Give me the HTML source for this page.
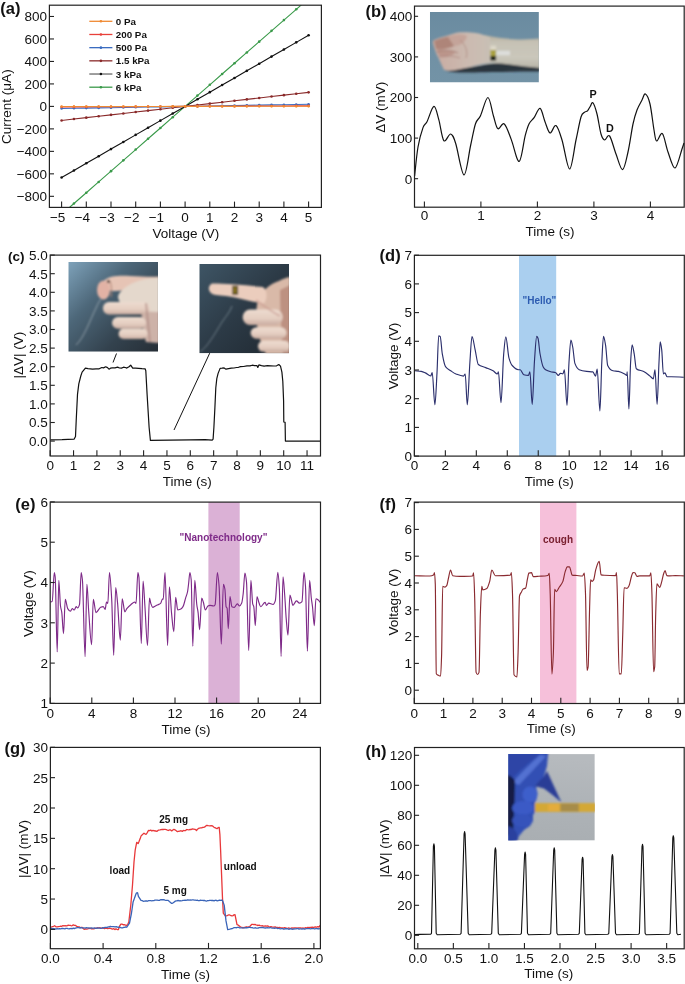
<!DOCTYPE html>
<html><head><meta charset="utf-8"><style>
html,body{margin:0;padding:0;background:#fff;width:685px;height:984px;overflow:hidden}
svg{display:block;font-family:"Liberation Sans",sans-serif;filter:blur(0.35px)}
</style></head><body>
<svg width="685" height="984" viewBox="0 0 685 984">
<rect width="685" height="984" fill="#fff"/>
<defs><clipPath id="ca"><rect x="49.4" y="5.2" width="272.0" height="202.20000000000002"/></clipPath></defs>
<g clip-path="url(#ca)">
<polyline points="61.6,214.3 73.95,203.51 86.3,192.72 98.65,181.93 111,171.14 123.35,160.35 135.7,149.56 148.05,138.77 160.4,127.98 172.75,117.19 185.1,106.4 197.45,95.61 209.8,84.82 222.15,74.03 234.5,63.24 246.85,52.45 259.2,41.66 271.55,30.87 283.9,20.08 296.25,9.29 308.6,-1.5" fill="none" stroke="#3a9a4a" stroke-width="1.1"/>
<g fill="#3a9a4a"><circle cx="61.6" cy="214.3" r="1.3"/><circle cx="73.95" cy="203.51" r="1.3"/><circle cx="86.3" cy="192.72" r="1.3"/><circle cx="98.65" cy="181.93" r="1.3"/><circle cx="111" cy="171.14" r="1.3"/><circle cx="123.35" cy="160.35" r="1.3"/><circle cx="135.7" cy="149.56" r="1.3"/><circle cx="148.05" cy="138.77" r="1.3"/><circle cx="160.4" cy="127.98" r="1.3"/><circle cx="172.75" cy="117.19" r="1.3"/><circle cx="185.1" cy="106.4" r="1.3"/><circle cx="197.45" cy="95.61" r="1.3"/><circle cx="209.8" cy="84.82" r="1.3"/><circle cx="222.15" cy="74.03" r="1.3"/><circle cx="234.5" cy="63.24" r="1.3"/><circle cx="246.85" cy="52.45" r="1.3"/><circle cx="259.2" cy="41.66" r="1.3"/><circle cx="271.55" cy="30.87" r="1.3"/><circle cx="283.9" cy="20.08" r="1.3"/><circle cx="296.25" cy="9.29" r="1.3"/><circle cx="308.6" cy="-1.5" r="1.3"/></g>
<polyline points="61.6,177.55 73.95,170.43 86.3,163.32 98.65,156.2 111,149.09 123.35,141.97 135.7,134.86 148.05,127.74 160.4,120.63 172.75,113.51 185.1,106.4 197.45,99.29 209.8,92.17 222.15,85.06 234.5,77.94 246.85,70.83 259.2,63.71 271.55,56.6 283.9,49.48 296.25,42.37 308.6,35.25" fill="none" stroke="#111" stroke-width="1.1"/>
<g fill="#111"><circle cx="61.6" cy="177.55" r="1.3"/><circle cx="73.95" cy="170.43" r="1.3"/><circle cx="86.3" cy="163.32" r="1.3"/><circle cx="98.65" cy="156.2" r="1.3"/><circle cx="111" cy="149.09" r="1.3"/><circle cx="123.35" cy="141.97" r="1.3"/><circle cx="135.7" cy="134.86" r="1.3"/><circle cx="148.05" cy="127.74" r="1.3"/><circle cx="160.4" cy="120.63" r="1.3"/><circle cx="172.75" cy="113.51" r="1.3"/><circle cx="185.1" cy="106.4" r="1.3"/><circle cx="197.45" cy="99.29" r="1.3"/><circle cx="209.8" cy="92.17" r="1.3"/><circle cx="222.15" cy="85.06" r="1.3"/><circle cx="234.5" cy="77.94" r="1.3"/><circle cx="246.85" cy="70.83" r="1.3"/><circle cx="259.2" cy="63.71" r="1.3"/><circle cx="271.55" cy="56.6" r="1.3"/><circle cx="283.9" cy="49.48" r="1.3"/><circle cx="296.25" cy="42.37" r="1.3"/><circle cx="308.6" cy="35.25" r="1.3"/></g>
<polyline points="61.6,120.45 73.95,119.05 86.3,117.64 98.65,116.24 111,114.83 123.35,113.43 135.7,112.02 148.05,110.62 160.4,109.21 172.75,107.81 185.1,106.4 197.45,105 209.8,103.59 222.15,102.19 234.5,100.78 246.85,99.38 259.2,97.97 271.55,96.56 283.9,95.16 296.25,93.76 308.6,92.35" fill="none" stroke="#8a2a2a" stroke-width="1.1"/>
<g fill="#8a2a2a"><circle cx="61.6" cy="120.45" r="1.3"/><circle cx="73.95" cy="119.05" r="1.3"/><circle cx="86.3" cy="117.64" r="1.3"/><circle cx="98.65" cy="116.24" r="1.3"/><circle cx="111" cy="114.83" r="1.3"/><circle cx="123.35" cy="113.43" r="1.3"/><circle cx="135.7" cy="112.02" r="1.3"/><circle cx="148.05" cy="110.62" r="1.3"/><circle cx="160.4" cy="109.21" r="1.3"/><circle cx="172.75" cy="107.81" r="1.3"/><circle cx="185.1" cy="106.4" r="1.3"/><circle cx="197.45" cy="105" r="1.3"/><circle cx="209.8" cy="103.59" r="1.3"/><circle cx="222.15" cy="102.19" r="1.3"/><circle cx="234.5" cy="100.78" r="1.3"/><circle cx="246.85" cy="99.38" r="1.3"/><circle cx="259.2" cy="97.97" r="1.3"/><circle cx="271.55" cy="96.56" r="1.3"/><circle cx="283.9" cy="95.16" r="1.3"/><circle cx="296.25" cy="93.76" r="1.3"/><circle cx="308.6" cy="92.35" r="1.3"/></g>
<polyline points="61.6,108.54 73.95,108.32 86.3,108.11 98.65,107.89 111,107.68 123.35,107.47 135.7,107.25 148.05,107.04 160.4,106.83 172.75,106.61 185.1,106.4 197.45,106.19 209.8,105.97 222.15,105.76 234.5,105.55 246.85,105.33 259.2,105.12 271.55,104.91 283.9,104.69 296.25,104.48 308.6,104.26" fill="none" stroke="#3a6cc0" stroke-width="1.1"/>
<g fill="#3a6cc0"><circle cx="61.6" cy="108.54" r="1.3"/><circle cx="73.95" cy="108.32" r="1.3"/><circle cx="86.3" cy="108.11" r="1.3"/><circle cx="98.65" cy="107.89" r="1.3"/><circle cx="111" cy="107.68" r="1.3"/><circle cx="123.35" cy="107.47" r="1.3"/><circle cx="135.7" cy="107.25" r="1.3"/><circle cx="148.05" cy="107.04" r="1.3"/><circle cx="160.4" cy="106.83" r="1.3"/><circle cx="172.75" cy="106.61" r="1.3"/><circle cx="185.1" cy="106.4" r="1.3"/><circle cx="197.45" cy="106.19" r="1.3"/><circle cx="209.8" cy="105.97" r="1.3"/><circle cx="222.15" cy="105.76" r="1.3"/><circle cx="234.5" cy="105.55" r="1.3"/><circle cx="246.85" cy="105.33" r="1.3"/><circle cx="259.2" cy="105.12" r="1.3"/><circle cx="271.55" cy="104.91" r="1.3"/><circle cx="283.9" cy="104.69" r="1.3"/><circle cx="296.25" cy="104.48" r="1.3"/><circle cx="308.6" cy="104.26" r="1.3"/></g>
<polyline points="61.6,106.96 73.95,106.91 86.3,106.85 98.65,106.79 111,106.74 123.35,106.68 135.7,106.62 148.05,106.57 160.4,106.51 172.75,106.46 185.1,106.4 197.45,106.34 209.8,106.29 222.15,106.23 234.5,106.18 246.85,106.12 259.2,106.06 271.55,106.01 283.9,105.95 296.25,105.89 308.6,105.84" fill="none" stroke="#e8403a" stroke-width="1.1"/>
<g fill="#e8403a"><circle cx="61.6" cy="106.96" r="1.3"/><circle cx="73.95" cy="106.91" r="1.3"/><circle cx="86.3" cy="106.85" r="1.3"/><circle cx="98.65" cy="106.79" r="1.3"/><circle cx="111" cy="106.74" r="1.3"/><circle cx="123.35" cy="106.68" r="1.3"/><circle cx="135.7" cy="106.62" r="1.3"/><circle cx="148.05" cy="106.57" r="1.3"/><circle cx="160.4" cy="106.51" r="1.3"/><circle cx="172.75" cy="106.46" r="1.3"/><circle cx="185.1" cy="106.4" r="1.3"/><circle cx="197.45" cy="106.34" r="1.3"/><circle cx="209.8" cy="106.29" r="1.3"/><circle cx="222.15" cy="106.23" r="1.3"/><circle cx="234.5" cy="106.18" r="1.3"/><circle cx="246.85" cy="106.12" r="1.3"/><circle cx="259.2" cy="106.06" r="1.3"/><circle cx="271.55" cy="106.01" r="1.3"/><circle cx="283.9" cy="105.95" r="1.3"/><circle cx="296.25" cy="105.89" r="1.3"/><circle cx="308.6" cy="105.84" r="1.3"/></g>
<polyline points="61.6,106.57 73.95,106.55 86.3,106.53 98.65,106.52 111,106.5 123.35,106.48 135.7,106.47 148.05,106.45 160.4,106.43 172.75,106.42 185.1,106.4 197.45,106.38 209.8,106.37 222.15,106.35 234.5,106.33 246.85,106.32 259.2,106.3 271.55,106.28 283.9,106.27 296.25,106.25 308.6,106.23" fill="none" stroke="#f08a32" stroke-width="1.1"/>
<g fill="#f08a32"><circle cx="61.6" cy="106.57" r="1.3"/><circle cx="73.95" cy="106.55" r="1.3"/><circle cx="86.3" cy="106.53" r="1.3"/><circle cx="98.65" cy="106.52" r="1.3"/><circle cx="111" cy="106.5" r="1.3"/><circle cx="123.35" cy="106.48" r="1.3"/><circle cx="135.7" cy="106.47" r="1.3"/><circle cx="148.05" cy="106.45" r="1.3"/><circle cx="160.4" cy="106.43" r="1.3"/><circle cx="172.75" cy="106.42" r="1.3"/><circle cx="185.1" cy="106.4" r="1.3"/><circle cx="197.45" cy="106.38" r="1.3"/><circle cx="209.8" cy="106.37" r="1.3"/><circle cx="222.15" cy="106.35" r="1.3"/><circle cx="234.5" cy="106.33" r="1.3"/><circle cx="246.85" cy="106.32" r="1.3"/><circle cx="259.2" cy="106.3" r="1.3"/><circle cx="271.55" cy="106.28" r="1.3"/><circle cx="283.9" cy="106.27" r="1.3"/><circle cx="296.25" cy="106.25" r="1.3"/><circle cx="308.6" cy="106.23" r="1.3"/></g>
</g>
<g stroke="#222" stroke-width="1.1" fill="none"><line x1="61.6" y1="207.4" x2="61.6" y2="201.6"/><line x1="86.3" y1="207.4" x2="86.3" y2="201.6"/><line x1="111" y1="207.4" x2="111" y2="201.6"/><line x1="135.7" y1="207.4" x2="135.7" y2="201.6"/><line x1="160.4" y1="207.4" x2="160.4" y2="201.6"/><line x1="185.1" y1="207.4" x2="185.1" y2="201.6"/><line x1="209.8" y1="207.4" x2="209.8" y2="201.6"/><line x1="234.5" y1="207.4" x2="234.5" y2="201.6"/><line x1="259.2" y1="207.4" x2="259.2" y2="201.6"/><line x1="283.9" y1="207.4" x2="283.9" y2="201.6"/><line x1="308.6" y1="207.4" x2="308.6" y2="201.6"/><line x1="49.4" y1="196.32" x2="54" y2="196.32"/><line x1="49.4" y1="173.84" x2="54" y2="173.84"/><line x1="49.4" y1="151.36" x2="54" y2="151.36"/><line x1="49.4" y1="128.88" x2="54" y2="128.88"/><line x1="49.4" y1="106.4" x2="54" y2="106.4"/><line x1="49.4" y1="83.92" x2="54" y2="83.92"/><line x1="49.4" y1="61.44" x2="54" y2="61.44"/><line x1="49.4" y1="38.96" x2="54" y2="38.96"/><line x1="49.4" y1="16.48" x2="54" y2="16.48"/></g>
<rect x="49.4" y="5.2" width="272" height="202.2" fill="none" stroke="#222" stroke-width="1.2"/>
<g font-size="13.5" fill="#111"><text x="65.35" y="221.7" text-anchor="end">−5</text><text x="90.05" y="221.7" text-anchor="end">−4</text><text x="114.75" y="221.7" text-anchor="end">−3</text><text x="139.45" y="221.7" text-anchor="end">−2</text><text x="164.15" y="221.7" text-anchor="end">−1</text><text x="185.1" y="221.7" text-anchor="middle">0</text><text x="209.8" y="221.7" text-anchor="middle">1</text><text x="234.5" y="221.7" text-anchor="middle">2</text><text x="259.2" y="221.7" text-anchor="middle">3</text><text x="283.9" y="221.7" text-anchor="middle">4</text><text x="308.6" y="221.7" text-anchor="middle">5</text><text x="47.1" y="201.18" text-anchor="end">−800</text><text x="47.1" y="178.7" text-anchor="end">−600</text><text x="47.1" y="156.22" text-anchor="end">−400</text><text x="47.1" y="133.74" text-anchor="end">−200</text><text x="47.1" y="111.26" text-anchor="end">0</text><text x="47.1" y="88.78" text-anchor="end">200</text><text x="47.1" y="66.3" text-anchor="end">400</text><text x="47.1" y="43.82" text-anchor="end">600</text><text x="47.1" y="21.34" text-anchor="end">800</text></g>
<text x="185.9" y="238.4" text-anchor="middle" font-size="13.5" fill="#111">Voltage (V)</text>
<text transform="translate(10.8,106.65) rotate(-90)" text-anchor="middle" font-size="13.5" fill="#111">Current (μA)</text>
<line x1="89.3" y1="21.3" x2="112.4" y2="21.3" stroke="#f08a32" stroke-width="1.3"/>
<circle cx="100.9" cy="21.3" r="1.3" fill="#f08a32"/>
<text x="115.8" y="24.8" font-size="9.8" font-weight="bold" fill="#111">0 Pa</text>
<line x1="89.3" y1="34.48" x2="112.4" y2="34.48" stroke="#e8403a" stroke-width="1.3"/>
<circle cx="100.9" cy="34.48" r="1.3" fill="#e8403a"/>
<text x="115.8" y="37.98" font-size="9.8" font-weight="bold" fill="#111">200 Pa</text>
<line x1="89.3" y1="47.66" x2="112.4" y2="47.66" stroke="#3a6cc0" stroke-width="1.3"/>
<circle cx="100.9" cy="47.66" r="1.3" fill="#3a6cc0"/>
<text x="115.8" y="51.16" font-size="9.8" font-weight="bold" fill="#111">500 Pa</text>
<line x1="89.3" y1="60.84" x2="112.4" y2="60.84" stroke="#8a2a2a" stroke-width="1.3"/>
<circle cx="100.9" cy="60.84" r="1.3" fill="#8a2a2a"/>
<text x="115.8" y="64.34" font-size="9.8" font-weight="bold" fill="#111">1.5 kPa</text>
<line x1="89.3" y1="74.02" x2="112.4" y2="74.02" stroke="#6a6a6a" stroke-width="1.3"/>
<circle cx="100.9" cy="74.02" r="1.3" fill="#111"/>
<text x="115.8" y="77.52" font-size="9.8" font-weight="bold" fill="#111">3 kPa</text>
<line x1="89.3" y1="87.2" x2="112.4" y2="87.2" stroke="#3a9a4a" stroke-width="1.3"/>
<circle cx="100.9" cy="87.2" r="1.3" fill="#3a9a4a"/>
<text x="115.8" y="90.7" font-size="9.8" font-weight="bold" fill="#111">6 kPa</text>
<text x="0.3" y="14.4" font-size="16.5" font-weight="bold" fill="#111">(a)</text>
<defs><clipPath id="cpb"><rect x="429.9" y="11.9" width="109" height="70.6"/></clipPath><filter id="blb" x="-10%" y="-10%" width="120%" height="120%"><feGaussianBlur stdDeviation="0.9"/></filter><linearGradient id="gbb" x1="0" y1="0" x2="0" y2="1"><stop offset="0" stop-color="#6a8ba0"/><stop offset="0.5" stop-color="#7090a4"/><stop offset="1" stop-color="#7393a6"/></linearGradient><linearGradient id="gfa" x1="0" y1="0" x2="0" y2="1"><stop offset="0" stop-color="#b3ab98"/><stop offset="0.25" stop-color="#c6c2b5"/><stop offset="0.7" stop-color="#cac7bb"/><stop offset="1" stop-color="#b8b4a7"/></linearGradient><linearGradient id="gfi" x1="0" y1="0" x2="1" y2="0"><stop offset="0" stop-color="#c9aba1"/><stop offset="0.6" stop-color="#ccbab0"/><stop offset="1" stop-color="#c8c0b5"/></linearGradient></defs>
<g clip-path="url(#cpb)"><rect x="429.9" y="11.9" width="109" height="70.6" fill="url(#gbb)"/>
<g filter="url(#blb)">
<path d="M445,68 C470,70 490,62 505,62.5 C520,64 530,66 540,67 L540,71.5 C520,71.5 490,72 470,72.5 C455,72.5 447,72 445,70Z" fill="#2c343e"/>
<path d="M478,34 C490,36 500,38.5 518,39.4 C528,39.6 535,38.8 540,38.5 L540,68 C530,67 520,66 510,64.5 C500,63 490,63 480,64 Z" fill="url(#gfa)"/>
<path d="M433.3,40.5 C437,38.6 442,37 446.9,35.8 C451,34.3 455,32.6 460,32.2 C466,32 472,32.2 476,33 C481,34 486,35.5 490,37.5 L491,62.8 C486,63.3 481,64.5 476,65.6 C469,67.5 460,69.5 452,70.6 C448,71 445,70.5 443.8,69.4 C441.5,64.7 439,59 436.5,54 C435,50 433.5,46 432.7,42Z" fill="url(#gfi)"/>
<path d="M434,41 C440,38 448,36 456,36 C460,40 458,45 452,47 C446,49 440,50 436,49Z" fill="#ae8579"/>
<path d="M436,50 C442,49 450,50 456,52 C452,56 446,58 440,57Z" fill="#b89084" opacity="0.8"/>
<path d="M448,37 C455,34 462,34 467,36 C466,42 460,46 454,46Z" fill="#c4a49a"/>
<path d="M437,52 C444,50 452,50 458,53" stroke="#a88078" stroke-width="1" fill="none"/>
<path d="M439,57 C446,55 454,56 460,58" stroke="#b08a82" stroke-width="0.9" fill="none"/>
<path d="M460,40 C466,45 468,52 466,58" stroke="#b39388" stroke-width="1" fill="none"/>
<rect x="496" y="50.8" width="14" height="4.5" fill="#e6e8ea" opacity="0.7"/>
<rect x="490.4" y="45.6" width="5.7" height="4.5" fill="#ddd8c8"/>
<rect x="490.4" y="50" width="5.7" height="6.2" fill="#a8a040"/>
<rect x="490.4" y="56" width="5.7" height="4.5" fill="#1e2014"/>
</g></g>
<path d="M414.6,176 C415.17,171.17 416.6,155.07 418,147 C419.4,138.93 421.5,131.82 423,127.6 C424.5,123.38 425.18,125.23 427,121.7 C428.82,118.17 431.93,106.73 433.9,106.4 C435.87,106.07 437.15,114 438.8,119.7 C440.45,125.4 441.82,138.22 443.8,140.6 C445.78,142.98 448.72,133.52 450.7,134 C452.68,134.48 453.48,136.68 455.7,143.5 C457.92,150.32 461.52,174.57 464,174.9 C466.48,175.23 468.68,154.03 470.6,145.5 C472.52,136.97 473.85,128.67 475.5,123.7 C477.15,118.73 478.43,120.07 480.5,115.7 C482.57,111.33 485.75,97.5 487.9,97.5 C490.05,97.5 491.75,110.52 493.4,115.7 C495.05,120.88 495.98,127.22 497.8,128.6 C499.62,129.98 502.05,122.17 504.3,124 C506.55,125.83 508.82,133.37 511.3,139.6 C513.78,145.83 516.88,162.07 519.2,161.4 C521.52,160.73 523.55,141.88 525.2,135.6 C526.85,129.32 527.62,126.68 529.1,123.7 C530.58,120.72 532.27,120.25 534.1,117.7 C535.93,115.15 538.28,107.73 540.1,108.4 C541.92,109.07 543.35,117.6 545,121.7 C546.65,125.8 548.17,132.35 550,133 C551.83,133.65 554,124.43 556,125.6 C558,126.77 559.73,132.77 562,140 C564.27,147.23 567.27,169 569.6,169 C571.93,169 574.1,148.67 576,140 C577.9,131.33 579.58,121.62 581,117 C582.42,112.38 583.42,113.33 584.5,112.3 C585.58,111.27 586.55,111.77 587.5,110.8 C588.45,109.83 589.28,107.83 590.2,106.5 C591.12,105.17 591.87,101.55 593,102.8 C594.13,104.05 595.67,108.8 597,114 C598.33,119.2 599.73,129.67 601,134 C602.27,138.33 603.17,139.67 604.6,140 C606.03,140.33 607.7,133.67 609.6,136 C611.5,138.33 613.83,148.4 616,154 C618.17,159.6 620.6,169.93 622.6,169.6 C624.6,169.27 626.27,159.6 628,152 C629.73,144.4 631.5,131 633,124 C634.5,117 635.5,114 637,110 C638.5,106 640.6,102.67 642,100 C643.4,97.33 644.07,93.33 645.4,94 C646.73,94.67 648.57,98 650,104 C651.43,110 652.9,123.83 654,130 C655.1,136.17 655.2,140.4 656.6,141 C658,141.6 660.5,131.77 662.4,133.6 C664.3,135.43 665.9,146.27 668,152 C670.1,157.73 672.67,168.5 675,168 C677.33,167.5 680.5,153.17 682,149 C683.5,144.83 683.67,144 684,143" fill="none" stroke="#111" stroke-width="1.2"/>
<g stroke="#222" stroke-width="1.1" fill="none"><line x1="424.4" y1="207.2" x2="424.4" y2="201.4"/><line x1="480.9" y1="207.2" x2="480.9" y2="201.4"/><line x1="537.4" y1="207.2" x2="537.4" y2="201.4"/><line x1="593.9" y1="207.2" x2="593.9" y2="201.4"/><line x1="650.4" y1="207.2" x2="650.4" y2="201.4"/><line x1="414.5" y1="178.7" x2="418.1" y2="178.7"/><line x1="414.5" y1="138.1" x2="418.1" y2="138.1"/><line x1="414.5" y1="97.5" x2="418.1" y2="97.5"/><line x1="414.5" y1="56.9" x2="418.1" y2="56.9"/><line x1="414.5" y1="16.3" x2="418.1" y2="16.3"/></g>
<rect x="414.5" y="6.1" width="269.7" height="201.1" fill="none" stroke="#222" stroke-width="1.2"/>
<g font-size="13.5" fill="#111"><text x="424.4" y="220.2" text-anchor="middle">0</text><text x="480.9" y="220.2" text-anchor="middle">1</text><text x="537.4" y="220.2" text-anchor="middle">2</text><text x="593.9" y="220.2" text-anchor="middle">3</text><text x="650.4" y="220.2" text-anchor="middle">4</text><text x="412.2" y="183.56" text-anchor="end">0</text><text x="412.2" y="142.96" text-anchor="end">100</text><text x="412.2" y="102.36" text-anchor="end">200</text><text x="412.2" y="61.76" text-anchor="end">300</text><text x="412.2" y="21.16" text-anchor="end">400</text></g>
<text x="550.05" y="236.2" text-anchor="middle" font-size="13.5" fill="#111">Time (s)</text>
<text transform="translate(384.6,107.15) rotate(-90)" text-anchor="middle" font-size="13.5" fill="#111">ΔV (mV)</text>
<text x="593.2" y="98.1" font-size="10.8" font-weight="bold" text-anchor="middle" fill="#111">P</text>
<text x="609.8" y="131.7" font-size="10.8" font-weight="bold" text-anchor="middle" fill="#111">D</text>
<text x="365.5" y="16.9" font-size="16.5" font-weight="bold" fill="#111">(b)</text>
<defs><clipPath id="cpc1"><rect x="68.3" y="262" width="89.7" height="89.7"/></clipPath><clipPath id="cpc2"><rect x="199.3" y="264" width="89.7" height="89.3"/></clipPath><filter id="blc" x="-10%" y="-10%" width="120%" height="120%"><feGaussianBlur stdDeviation="1.0"/></filter><linearGradient id="gc1" x1="0" y1="0" x2="1" y2="1"><stop offset="0" stop-color="#7ea2ba"/><stop offset="0.35" stop-color="#4d6779"/><stop offset="0.7" stop-color="#33424e"/><stop offset="1" stop-color="#262e36"/></linearGradient><linearGradient id="gfg" x1="0" y1="0" x2="0" y2="1"><stop offset="0" stop-color="#eddcd0"/><stop offset="0.6" stop-color="#e4cdc0"/><stop offset="1" stop-color="#c9aca0"/></linearGradient><linearGradient id="gc2" x1="0" y1="0" x2="1" y2="1"><stop offset="0" stop-color="#3e5565"/><stop offset="0.5" stop-color="#2c3a46"/><stop offset="1" stop-color="#1f2830"/></linearGradient></defs>
<g clip-path="url(#cpc1)"><rect x="68.3" y="262" width="89.7" height="89.7" fill="url(#gc1)"/>
<g filter="url(#blc)">
<path d="M76,345 C84,338 90,320 96,308 C98,303 100,300 102,298" stroke="#b5c0c6" stroke-width="0.7" fill="none"/>
<path d="M140,284 L159,278 L159,343 L146,342 C142,330 140,300 140,284Z" fill="#cdb2a8"/>
<path d="M104,281 C108,276 118,275.5 130,276 C142,276.5 152,277 159,276.5 L159,282 C148,283 136,286 124,290 C118,291.5 110,291.5 106,289 C103,287 102,284 104,281Z" fill="#e6c4b5"/>
<path d="M118,296 C121,288 132,282 146,279 C152,278 156,278 159,278 L159,312 C150,312 140,311 130,309 C123,307 118,302 118,296Z" fill="#e4d8cc"/>
<ellipse cx="103.5" cy="290" rx="6.5" ry="9.5" fill="#e2b2a5"/>
<circle cx="108.4" cy="281.5" r="1.4" fill="#1a1410"/>
<path d="M110,281 C112,286 112,292 111,297" stroke="#b08070" stroke-width="1" fill="none"/>
<rect x="103" y="302" width="47" height="12.5" rx="6" fill="url(#gfg)"/>
<rect x="112" y="317" width="34" height="11.8" rx="6" fill="url(#gfg)"/>
<rect x="118.6" y="328.8" width="29" height="10.2" rx="5" fill="url(#gfg)"/>
<path d="M146,303 L150,342" stroke="#a8807a" stroke-width="2" fill="none" opacity="0.6"/>
</g></g>
<g clip-path="url(#cpc2)"><rect x="199.3" y="264" width="89.7" height="89.3" fill="url(#gc2)"/>
<g filter="url(#blc)">
<path d="M200,352 C208,346 214,335 222,322 C226,316 230,312 232,306" stroke="#8e9ea6" stroke-width="0.7" fill="none"/>
<path d="M258,300 C262,290 270,284 279,281 C283,279 286,277.5 290,277 L290,354 L266,354 C258,340 254,315 258,300Z" fill="#d9b9a8"/>
<path d="M280,290 L290,285 L290,354 L283,354 C281,330 280,310 280,290Z" fill="#b08070" opacity="0.7"/>
<path d="M212,283.6 C222,283.5 240,284.6 263,287 C267,290 268,298 264,303.4 C250,302 240,297.5 226,296 C218,295.5 213,295 211,293 C208,290 208,286 212,283.6Z" fill="#ebcdbd"/>
<rect x="242.7" y="309.5" width="40" height="15.5" rx="7.5" fill="url(#gfg)"/>
<rect x="250.6" y="327.2" width="36" height="11.5" rx="5.8" fill="url(#gfg)"/>
<rect x="258" y="340.8" width="32" height="11" rx="5.5" fill="url(#gfg)"/>
<path d="M256,300 C264,306 272,312 280,316" stroke="#c89a90" stroke-width="2" fill="none" opacity="0.6"/>
<rect x="232.2" y="285.7" width="5.9" height="9.2" fill="#4a4018"/>
<rect x="233.2" y="287" width="3.5" height="6.5" fill="#a08828" opacity="0.7"/>
</g></g>
<polyline points="50.4,439.9 62,439.7 74.2,439.1 75.5,436.5 76.2,420.7 77.5,394.4 78.8,383.9 80.8,376 82.1,372.1 85.4,368.1 88,368.6 92.6,369.2 96,368.9 99.2,368.8 101.8,367.5 103.5,367.9 105.7,366.8 107.5,367.6 109,369.2 110.5,368.2 112.3,367.9 115,367.8 117.6,367.1 119.5,368 121.5,368.1 123.5,367.2 125.4,367.5 126.8,368.1 129,366.8 130.7,365.2 132.7,368.1 135.5,368.2 138.6,368.4 142,368.7 145.1,368.8 145.8,370.8 147.1,394.4 149.1,427.3 150.4,440.4 170,440.2 190,439.9 205,439.7 212.2,440.1 213.1,439.1 213.9,427.3 214.9,407.6 215.8,387.8 216.8,378.6 218.1,373.4 220.1,368.4 222,368.2 224.1,367.9 226,369.2 228.5,368.6 231.3,368.1 234,368 236.5,367.5 238.5,367.3 240.5,366.6 243.5,366.5 247,365.8 250,365.9 252.3,365.2 254.5,365.7 256.9,365.5 257.8,367.5 258.9,364.9 261.5,365.6 264.1,366.2 267.5,365.7 270.7,365.8 274,366 276.6,365.8 278.8,364.5 280.5,366.2 281.9,372.1 282.8,381.3 283.6,401 283.8,422 285.1,422.3 285.4,441.1 300,441.1 320.3,441.1" fill="none" stroke="#111" stroke-width="1.2" stroke-linejoin="round"/>
<line x1="116.5" y1="353.5" x2="113" y2="362.5" stroke="#111" stroke-width="1"/>
<line x1="209.7" y1="353.2" x2="174" y2="430" stroke="#111" stroke-width="1"/>
<g stroke="#222" stroke-width="1.1" fill="none"><line x1="50.2" y1="456" x2="50.2" y2="450.2"/><line x1="73.55" y1="456" x2="73.55" y2="450.2"/><line x1="96.9" y1="456" x2="96.9" y2="450.2"/><line x1="120.25" y1="456" x2="120.25" y2="450.2"/><line x1="143.6" y1="456" x2="143.6" y2="450.2"/><line x1="166.95" y1="456" x2="166.95" y2="450.2"/><line x1="190.3" y1="456" x2="190.3" y2="450.2"/><line x1="213.65" y1="456" x2="213.65" y2="450.2"/><line x1="237" y1="456" x2="237" y2="450.2"/><line x1="260.35" y1="456" x2="260.35" y2="450.2"/><line x1="283.7" y1="456" x2="283.7" y2="450.2"/><line x1="307.05" y1="456" x2="307.05" y2="450.2"/><line x1="50.2" y1="441.1" x2="54.8" y2="441.1"/><line x1="50.2" y1="422.5" x2="54.8" y2="422.5"/><line x1="50.2" y1="403.9" x2="54.8" y2="403.9"/><line x1="50.2" y1="385.3" x2="54.8" y2="385.3"/><line x1="50.2" y1="366.7" x2="54.8" y2="366.7"/><line x1="50.2" y1="348.1" x2="54.8" y2="348.1"/><line x1="50.2" y1="329.5" x2="54.8" y2="329.5"/><line x1="50.2" y1="310.9" x2="54.8" y2="310.9"/><line x1="50.2" y1="292.3" x2="54.8" y2="292.3"/><line x1="50.2" y1="273.7" x2="54.8" y2="273.7"/><line x1="50.2" y1="255.1" x2="54.8" y2="255.1"/></g>
<rect x="50.2" y="255.1" width="270.3" height="200.9" fill="none" stroke="#222" stroke-width="1.2"/>
<g font-size="13.5" fill="#111"><text x="50.2" y="470.3" text-anchor="middle">0</text><text x="73.55" y="470.3" text-anchor="middle">1</text><text x="96.9" y="470.3" text-anchor="middle">2</text><text x="120.25" y="470.3" text-anchor="middle">3</text><text x="143.6" y="470.3" text-anchor="middle">4</text><text x="166.95" y="470.3" text-anchor="middle">5</text><text x="190.3" y="470.3" text-anchor="middle">6</text><text x="213.65" y="470.3" text-anchor="middle">7</text><text x="237" y="470.3" text-anchor="middle">8</text><text x="260.35" y="470.3" text-anchor="middle">9</text><text x="283.7" y="470.3" text-anchor="middle">10</text><text x="307.05" y="470.3" text-anchor="middle">11</text><text x="47.9" y="445.96" text-anchor="end">0.0</text><text x="47.9" y="427.36" text-anchor="end">0.5</text><text x="47.9" y="408.76" text-anchor="end">1.0</text><text x="47.9" y="390.16" text-anchor="end">1.5</text><text x="47.9" y="371.56" text-anchor="end">2.0</text><text x="47.9" y="352.96" text-anchor="end">2.5</text><text x="47.9" y="334.36" text-anchor="end">3.0</text><text x="47.9" y="315.76" text-anchor="end">3.5</text><text x="47.9" y="297.16" text-anchor="end">4.0</text><text x="47.9" y="278.56" text-anchor="end">4.5</text><text x="47.9" y="259.96" text-anchor="end">5.0</text></g>
<text x="187.35" y="485.5" text-anchor="middle" font-size="13.5" fill="#111">Time (s)</text>
<text transform="translate(22.8,355.05) rotate(-90)" text-anchor="middle" font-size="13.5" fill="#111">|ΔV| (V)</text>
<text x="8.1" y="260.7" font-size="13.5" font-weight="bold" fill="#111">(c)</text>
<rect x="519" y="255.3" width="37.2" height="200.8" fill="#aacfef"/>
<path d="M414.8,370.8 C416.93,371 419.07,371.07 421.2,371.4 C422.6,371.62 424,372.28 425.4,372.9 C427.17,373.68 428.93,376 430.7,376 C431.2,376 431.7,372.5 432.2,372.5 C433.1,372.5 434,404.7 434.9,404.7 C435.6,404.7 436.3,385.48 437,372.9 C437.57,362.72 438.13,335.9 438.7,335.9 C439.2,335.9 439.7,336.14 440.2,336.5 C440.9,337.01 441.6,350.05 442.3,353.9 C443.37,359.77 444.43,365.11 445.5,366.6 C447.27,369.07 449.03,369.58 450.8,370.8 C452.53,372 454.27,373.32 456,374 C458.5,374.98 461,376.1 463.5,376.1 C464.07,376.1 464.63,374 465.2,374 C465.9,374 466.6,404.7 467.3,404.7 C468.17,404.7 469.03,374.39 469.9,362.3 C470.6,352.54 471.3,336.5 472,336.5 C473.03,336.5 474.07,345.02 475.1,349.6 C476.17,354.32 477.23,363.58 478.3,364.5 C480.77,366.63 483.23,366.55 485.7,367.6 C488.17,368.65 490.63,369.42 493.1,370.8 C494.53,371.6 495.97,374 497.4,374 C497.73,374 498.07,371.9 498.4,371.9 C499.27,371.9 500.13,402.6 501,402.6 C501.9,402.6 502.8,363.8 503.7,353.9 C504.4,346.2 505.1,336.9 505.8,336.9 C506.87,336.9 507.93,354.44 509,358.1 C510.07,361.76 511.13,364.33 512.2,365.5 C514.3,367.81 516.4,369.5 518.5,369.7 C519.07,369.75 519.63,369.74 520.2,369.8 C521.4,369.92 522.6,374.5 523.8,374.8 C525.33,375.18 526.87,375.4 528.4,375.4 C528.9,375.4 529.4,371.8 529.9,371.8 C530.67,371.8 531.43,404.3 532.2,404.3 C532.97,404.3 533.73,371.29 534.5,360.6 C535.23,350.38 535.97,336.3 536.7,336.3 C537.13,336.3 537.57,337.24 538,338.3 C538.67,339.93 539.33,349.79 540,353.5 C541.03,359.26 542.07,364.75 543.1,366.7 C543.93,368.27 544.77,369.27 545.6,369.8 C547.3,370.88 549,371.36 550.7,371.8 C552.4,372.24 554.1,372.19 555.8,372.8 C556.63,373.1 557.47,375.4 558.3,375.4 C559,375.4 559.7,373.3 560.4,373.3 C561.23,373.3 562.07,373.8 562.9,373.8 C563.4,373.8 563.9,369.8 564.4,369.8 C565.27,369.8 566.13,405.3 567,405.3 C567.67,405.3 568.33,372.37 569,362.3 C569.63,352.74 570.27,340.1 570.9,340.1 C571.53,340.1 572.17,344.26 572.8,347.5 C573.5,351.08 574.2,361.54 574.9,363.4 C576.33,367.21 577.77,369.09 579.2,369.7 C581.67,370.75 584.13,371.11 586.6,371.4 C588.7,371.64 590.8,371.54 592.9,371.9 C593.77,372.05 594.63,376.1 595.5,376.1 C596.07,376.1 596.63,369.1 597.2,369.1 C598.1,369.1 599,411 599.9,411 C600.53,411 601.17,374.38 601.8,362.3 C602.37,351.49 602.93,336.3 603.5,336.3 C604.2,336.3 604.9,341.22 605.6,345.4 C606.3,349.58 607,364.06 607.7,365.5 C609.47,369.12 611.23,370.44 613,370.8 C614.77,371.16 616.53,371.09 618.3,371.4 C620.43,371.77 622.57,372.84 624.7,374 C625.4,374.38 626.1,375.5 626.8,375.5 C626.93,375.5 627.07,371.9 627.2,371.9 C627.77,371.9 628.33,408.9 628.9,408.9 C629.47,408.9 630.03,371.5 630.6,362.3 C631.1,354.18 631.6,344.8 632.1,344.8 C632.8,344.8 633.5,350.14 634.2,353.9 C634.9,357.66 635.6,368.12 636.3,368.7 C638.77,370.76 641.23,370.19 643.7,371.4 C645.83,372.45 647.97,374.41 650.1,376.1 C651.17,376.94 652.23,378.8 653.3,378.8 C653.87,378.8 654.43,369.7 655,369.7 C655.7,369.7 656.4,404.3 657.1,404.3 C657.73,404.3 658.37,374.39 659,362.3 C659.4,354.66 659.8,341.8 660.2,341.8 C660.7,341.8 661.2,345.82 661.7,349.6 C662.27,353.88 662.83,374 663.4,374 C663.9,374 664.4,372.9 664.9,372.9 C665.6,372.9 666.3,376.7 667,376.7 C668.4,376.7 669.8,376.7 671.2,376.7 C675.4,376.7 679.6,377.03 683.8,377.2" fill="none" stroke="#2b2f6c" stroke-width="1.15" stroke-linejoin="round"/>
<text x="539.4" y="304" font-size="10" font-weight="bold" text-anchor="middle" fill="#2c5bb0">"Hello"</text>
<g stroke="#222" stroke-width="1.1" fill="none"><line x1="414.4" y1="456.1" x2="414.4" y2="450.3"/><line x1="445.36" y1="456.1" x2="445.36" y2="450.3"/><line x1="476.32" y1="456.1" x2="476.32" y2="450.3"/><line x1="507.28" y1="456.1" x2="507.28" y2="450.3"/><line x1="538.24" y1="456.1" x2="538.24" y2="450.3"/><line x1="569.2" y1="456.1" x2="569.2" y2="450.3"/><line x1="600.16" y1="456.1" x2="600.16" y2="450.3"/><line x1="631.12" y1="456.1" x2="631.12" y2="450.3"/><line x1="662.08" y1="456.1" x2="662.08" y2="450.3"/><line x1="414.4" y1="456.1" x2="419" y2="456.1"/><line x1="414.4" y1="427.4" x2="419" y2="427.4"/><line x1="414.4" y1="398.7" x2="419" y2="398.7"/><line x1="414.4" y1="370" x2="419" y2="370"/><line x1="414.4" y1="341.3" x2="419" y2="341.3"/><line x1="414.4" y1="312.6" x2="419" y2="312.6"/><line x1="414.4" y1="283.9" x2="419" y2="283.9"/><line x1="414.4" y1="255.2" x2="419" y2="255.2"/></g>
<rect x="414.4" y="255.3" width="269.9" height="200.8" fill="none" stroke="#222" stroke-width="1.2"/>
<g font-size="13.5" fill="#111"><text x="414.4" y="470.4" text-anchor="middle">0</text><text x="445.36" y="470.4" text-anchor="middle">2</text><text x="476.32" y="470.4" text-anchor="middle">4</text><text x="507.28" y="470.4" text-anchor="middle">6</text><text x="538.24" y="470.4" text-anchor="middle">8</text><text x="569.2" y="470.4" text-anchor="middle">10</text><text x="600.16" y="470.4" text-anchor="middle">12</text><text x="631.12" y="470.4" text-anchor="middle">14</text><text x="662.08" y="470.4" text-anchor="middle">16</text><text x="412.1" y="460.96" text-anchor="end">0</text><text x="412.1" y="432.26" text-anchor="end">1</text><text x="412.1" y="403.56" text-anchor="end">2</text><text x="412.1" y="374.86" text-anchor="end">3</text><text x="412.1" y="346.16" text-anchor="end">4</text><text x="412.1" y="317.46" text-anchor="end">5</text><text x="412.1" y="288.76" text-anchor="end">6</text><text x="412.1" y="260.06" text-anchor="end">7</text></g>
<text x="549.35" y="485.7" text-anchor="middle" font-size="13.5" fill="#111">Time (s)</text>
<text transform="translate(398.4,356.1) rotate(-90)" text-anchor="middle" font-size="13.5" fill="#111">Voltage (V)</text>
<text x="379.6" y="261.3" font-size="16.5" font-weight="bold" fill="#111">(d)</text>
<rect x="208.4" y="502.1" width="31.3" height="201.3" fill="#dbb1d6"/>
<path d="M50.6,602 C51.13,601.8 51.67,601.77 52.2,601.4 C52.9,600.91 53.6,572.5 54.3,572.5 C54.6,572.5 54.9,574.59 55.2,577 C55.87,582.36 56.53,652 57.2,652 C57.73,652 58.27,580.4 58.8,580.4 C59.37,580.4 59.93,601.79 60.5,606 C60.93,609.22 61.37,609.54 61.8,612.6 C62.37,616.6 62.93,633.6 63.5,633.6 C64.1,633.6 64.7,599.4 65.3,599.4 C66.1,599.4 66.9,607.32 67.7,608.6 C68.57,609.99 69.43,611.2 70.3,611.2 C70.97,611.2 71.63,608.6 72.3,608.6 C72.97,608.6 73.63,610 74.3,610 C74.93,610 75.57,606.6 76.2,606.6 C76.67,606.6 77.13,608 77.6,608 C78.23,608 78.87,606.75 79.5,604.7 C80.07,602.87 80.63,572.5 81.2,572.5 C81.6,572.5 82,576.04 82.4,579.7 C83.3,587.93 84.2,656.6 85.1,656.6 C85.7,656.6 86.3,584.3 86.9,584.3 C87.5,584.3 88.1,603.3 88.7,611.2 C89.67,623.92 90.63,644.7 91.6,644.7 C92.17,644.7 92.73,599.4 93.3,599.4 C94.2,599.4 95.1,612.6 96,612.6 C97.53,612.6 99.07,607.93 100.6,607.3 C101.47,606.94 102.33,606.6 103.2,606.6 C103.87,606.6 104.53,609.3 105.2,609.3 C105.63,609.3 106.07,602 106.5,602 C106.93,602 107.37,603.4 107.8,603.4 C108.37,603.4 108.93,572.5 109.5,572.5 C110.23,572.5 110.97,586.85 111.7,599.4 C112.37,610.81 113.03,655.3 113.7,655.3 C114.37,655.3 115.03,587.6 115.7,587.6 C116.33,587.6 116.97,596.95 117.6,603.4 C118.5,612.56 119.4,640.1 120.3,640.1 C120.93,640.1 121.57,598.8 122.2,598.8 C123.1,598.8 124,611.9 124.9,611.9 C125.53,611.9 126.17,609.42 126.8,608.6 C128.13,606.88 129.47,605.78 130.8,604.7 C132.1,603.65 133.4,602 134.7,602 C135.13,602 135.57,603.4 136,603.4 C136.63,603.4 137.27,572.5 137.9,572.5 C138.23,572.5 138.57,574.71 138.9,577.1 C139.7,582.85 140.5,643.4 141.3,643.4 C141.9,643.4 142.5,581 143.1,581 C143.7,581 144.3,597.33 144.9,606 C145.77,618.53 146.63,645.4 147.5,645.4 C148.17,645.4 148.83,598.1 149.5,598.1 C149.93,598.1 150.37,602.19 150.8,603.4 C151.43,605.17 152.07,607.3 152.7,607.3 C153.6,607.3 154.5,606.44 155.4,606 C156.27,605.57 157.13,605.13 158,604.7 C158.87,604.27 159.73,604.13 160.6,603.4 C161.27,602.84 161.93,598.8 162.6,598.8 C162.8,598.8 163,599.4 163.2,599.4 C163.8,599.4 164.4,572.5 165,572.5 C165.87,572.5 166.73,645.4 167.6,645.4 C168.2,645.4 168.8,586.9 169.4,586.9 C170.1,586.9 170.8,605.68 171.5,612.6 C172.27,620.18 173.03,631.6 173.8,631.6 C174.43,631.6 175.07,597.4 175.7,597.4 C176.37,597.4 177.03,609.9 177.7,609.9 C178.57,609.9 179.43,609.62 180.3,609.3 C181.2,608.96 182.1,607.98 183,606.6 C183.87,605.27 184.73,600.95 185.6,598.1 C186.27,595.91 186.93,594.74 187.6,591.5 C187.93,589.88 188.27,586.42 188.6,583.7 C189.03,580.16 189.47,572.5 189.9,572.5 C190.33,572.5 190.77,575.57 191.2,579.7 C191.73,584.78 192.27,646.1 192.8,646.1 C193.47,646.1 194.13,580.4 194.8,580.4 C195.47,580.4 196.13,599.42 196.8,604.7 C197.23,608.13 197.67,609.2 198.1,612.6 C198.6,616.53 199.1,629.6 199.6,629.6 C200.3,629.6 201,598.1 201.7,598.1 C202.23,598.1 202.77,600.41 203.3,602 C203.97,603.99 204.63,609.9 205.3,609.9 C206.17,609.9 207.03,606.48 207.9,606 C208.57,605.63 209.23,605.3 209.9,605.3 C211.2,605.3 212.5,606 213.8,606 C214.23,606 214.67,605.45 215.1,604.7 C215.87,603.38 216.63,572.5 217.4,572.5 C217.97,572.5 218.53,579.43 219.1,586.3 C219.83,595.19 220.57,644.1 221.3,644.1 C222,644.1 222.7,584.2 223.4,584.2 C223.9,584.2 224.4,586.42 224.9,589.2 C225.3,591.42 225.7,605.64 226.1,606.7 C226.43,607.58 226.77,607.3 227.1,608.2 C227.5,609.28 227.9,628.6 228.3,628.6 C228.87,628.6 229.43,596.5 230,596.5 C230.63,596.5 231.27,606.35 231.9,606.7 C232.73,607.16 233.57,607.4 234.4,607.4 C235.37,607.4 236.33,603.8 237.3,603.8 C238.03,603.8 238.77,606 239.5,606 C240.23,606 240.97,604.77 241.7,603.1 C242.2,601.96 242.7,597.73 243.2,593.6 C243.77,588.92 244.33,573.1 244.9,573.1 C245.43,573.1 245.97,577.09 246.5,581.9 C247.23,588.51 247.97,650.5 248.7,650.5 C249.43,650.5 250.17,580.4 250.9,580.4 C251.5,580.4 252.1,601.3 252.7,603.8 C253.07,605.33 253.43,605.15 253.8,606.7 C254.3,608.81 254.8,625.7 255.3,625.7 C255.87,625.7 256.43,596.5 257,596.5 C257.6,596.5 258.2,600.68 258.8,602.3 C259.43,604.01 260.07,606.7 260.7,606.7 C262.17,606.7 263.63,602.3 265.1,602.3 C265.57,602.3 266.03,605.3 266.5,605.3 C267.23,605.3 267.97,603.1 268.7,603.1 C270.17,603.1 271.63,604.5 273.1,604.5 C273.83,604.5 274.57,602.97 275.3,600.9 C276.13,598.55 276.97,572.4 277.8,572.4 C278.33,572.4 278.87,580.4 279.4,589.2 C279.97,598.55 280.53,656.4 281.1,656.4 C281.73,656.4 282.37,576.8 283,576.8 C283.6,576.8 284.2,588.72 284.8,596.5 C285.27,602.55 285.73,612.89 286.2,618.4 C286.8,625.49 287.4,635.2 288,635.2 C288.63,635.2 289.27,595 289.9,595 C290.37,595 290.83,597.77 291.3,599.4 C291.8,601.14 292.3,605.3 292.8,605.3 C294.03,605.3 295.27,600.9 296.5,600.9 C297.47,600.9 298.43,603.1 299.4,603.1 C300.27,603.1 301.13,602.6 302,601.6 C302.67,600.83 303.33,572.4 304,572.4 C304.5,572.4 305,579.17 305.5,586.3 C306.13,595.33 306.77,651.2 307.4,651.2 C308.13,651.2 308.87,580.4 309.6,580.4 C310.17,580.4 310.73,593.22 311.3,598 C311.7,601.38 312.1,603.3 312.5,606.7 C313.1,611.79 313.7,625.7 314.3,625.7 C314.83,625.7 315.37,598.7 315.9,598.7 C316.73,598.7 317.57,599.43 318.4,600.1 C318.97,600.55 319.53,601.57 320.1,602.3" fill="none" stroke="#7e2a88" stroke-width="1.15" stroke-linejoin="round"/>
<text x="223.5" y="541" font-size="10" font-weight="bold" text-anchor="middle" fill="#7e2a88">"Nanotechnology"</text>
<g stroke="#222" stroke-width="1.1" fill="none"><line x1="50.2" y1="703.4" x2="50.2" y2="697.6"/><line x1="91.8" y1="703.4" x2="91.8" y2="697.6"/><line x1="133.4" y1="703.4" x2="133.4" y2="697.6"/><line x1="175" y1="703.4" x2="175" y2="697.6"/><line x1="216.6" y1="703.4" x2="216.6" y2="697.6"/><line x1="258.2" y1="703.4" x2="258.2" y2="697.6"/><line x1="299.8" y1="703.4" x2="299.8" y2="697.6"/><line x1="50.2" y1="703.4" x2="54.8" y2="703.4"/><line x1="50.2" y1="663.1" x2="54.8" y2="663.1"/><line x1="50.2" y1="622.8" x2="54.8" y2="622.8"/><line x1="50.2" y1="582.5" x2="54.8" y2="582.5"/><line x1="50.2" y1="542.2" x2="54.8" y2="542.2"/><line x1="50.2" y1="501.9" x2="54.8" y2="501.9"/></g>
<rect x="50.2" y="502.1" width="270.3" height="201.3" fill="none" stroke="#222" stroke-width="1.2"/>
<g font-size="13.5" fill="#111"><text x="50.2" y="717.7" text-anchor="middle">0</text><text x="91.8" y="717.7" text-anchor="middle">4</text><text x="133.4" y="717.7" text-anchor="middle">8</text><text x="175" y="717.7" text-anchor="middle">12</text><text x="216.6" y="717.7" text-anchor="middle">16</text><text x="258.2" y="717.7" text-anchor="middle">20</text><text x="299.8" y="717.7" text-anchor="middle">24</text><text x="47.9" y="708.26" text-anchor="end">1</text><text x="47.9" y="667.96" text-anchor="end">2</text><text x="47.9" y="627.66" text-anchor="end">3</text><text x="47.9" y="587.36" text-anchor="end">4</text><text x="47.9" y="547.06" text-anchor="end">5</text><text x="47.9" y="506.76" text-anchor="end">6</text></g>
<text x="186.05" y="734.1" text-anchor="middle" font-size="13.5" fill="#111">Time (s)</text>
<text transform="translate(33.4,603.6) rotate(-90)" text-anchor="middle" font-size="13.5" fill="#111">Voltage (V)</text>
<text x="15.3" y="509.8" font-size="16.5" font-weight="bold" fill="#111">(e)</text>
<rect x="540" y="502.1" width="36.4" height="201.4" fill="#f6c0da"/>
<path d="M414.5,575.7 C419.63,575.8 424.77,576 429.9,576 C431.1,576 432.3,575.7 433.5,575 C433.83,574.8 434.17,572.6 434.5,572.6 C434.77,572.6 435.03,577.72 435.3,584.2 C435.63,592.3 435.97,673.27 436.3,673.8 C437,674.92 437.7,674.99 438.4,675.3 C439.13,675.62 439.87,676 440.6,676 C440.93,676 441.27,665.59 441.6,655.3 C441.97,643.98 442.33,586.4 442.7,586.4 C443.43,586.4 444.17,587.1 444.9,587.1 C445.5,587.1 446.1,586.49 446.7,585.7 C447.27,584.95 447.83,580.85 448.4,578.5 C449.1,575.6 449.8,570 450.5,570 C451.23,570 451.97,575.53 452.7,575.7 C455.07,576.24 457.43,576.4 459.8,576.4 C464.07,576.4 468.33,576.37 472.6,576 C472.93,575.97 473.27,572.8 473.6,572.8 C473.97,572.8 474.33,586.73 474.7,598.4 C475.17,613.25 475.63,671.11 476.1,672.4 C476.6,673.78 477.1,674.5 477.6,674.5 C478.07,674.5 478.53,673.75 479,672.4 C479.47,671.05 479.93,624.87 480.4,612.7 C480.87,600.53 481.33,586.4 481.8,586.4 C482.13,586.4 482.47,589.9 482.8,589.9 C484.13,589.9 485.47,589.35 486.8,588.5 C487.77,587.88 488.73,584.73 489.7,581.4 C490.4,578.99 491.1,570 491.8,570 C492.97,570 494.13,575.7 495.3,575.7 C500.3,575.7 505.3,575.64 510.3,575.1 C510.67,575.06 511.03,572.6 511.4,572.6 C511.77,572.6 512.13,583.63 512.5,593.8 C513,607.67 513.5,673.97 514,674.8 C514.97,676.41 515.93,677 516.9,677 C517.3,677 517.7,663.03 518.1,652.2 C518.57,639.57 519.03,597.9 519.5,596 C520.1,593.56 520.7,593.48 521.3,592.3 C521.87,591.19 522.43,589.5 523,589.1 C523.9,588.47 524.8,588.73 525.7,588 C526.27,587.54 526.83,581.77 527.4,579.2 C527.9,576.93 528.4,573.3 528.9,573.1 C529.77,572.75 530.63,572.6 531.5,572.6 C532.07,572.6 532.63,576.6 533.2,576.6 C535.07,576.6 536.93,576.42 538.8,576.3 C541.8,576.1 544.8,576.13 547.8,575.5 C548.3,575.39 548.8,573.4 549.3,573.4 C549.6,573.4 549.9,584.93 550.2,593.8 C550.77,610.55 551.33,674.1 551.9,674.1 C552.4,674.1 552.9,663.86 553.4,652.2 C553.8,642.87 554.2,589.4 554.6,589.4 C555.17,589.4 555.73,591.6 556.3,591.6 C557.27,591.6 558.23,588.69 559.2,587.2 C560.43,585.3 561.67,584.35 562.9,581.4 C563.63,579.64 564.37,574.11 565.1,571.9 C565.83,569.69 566.57,566.8 567.3,566.8 C568.03,566.8 568.77,566.8 569.5,566.8 C569.97,566.8 570.43,569.71 570.9,571.2 C571.3,572.48 571.7,575.02 572.1,575.1 C573.67,575.42 575.23,575.37 576.8,575.5 C578.73,575.67 580.67,576 582.6,576 C583.17,576 583.73,573.1 584.3,573.1 C584.7,573.1 585.1,583.67 585.5,593.8 C586,606.46 586.5,670.4 587,670.4 C587.37,670.4 587.73,668.92 588.1,666.8 C588.6,663.91 589.1,624.69 589.6,608.4 C589.93,597.54 590.27,579.9 590.6,579.9 C591.1,579.9 591.6,581.4 592.1,581.4 C592.6,581.4 593.1,580.7 593.6,579.9 C594.3,578.78 595,572.21 595.7,569.9 C596.87,566.04 598.03,561.4 599.2,561.4 C599.83,561.4 600.47,574.73 601.1,574.9 C602.13,575.18 603.17,575.25 604.2,575.3 C608,575.49 611.8,575.6 615.6,575.6 C615.9,575.6 616.2,572.5 616.5,572.5 C616.77,572.5 617.03,584.52 617.3,592.7 C617.93,612.12 618.57,673.8 619.2,673.8 C619.9,673.8 620.6,673.8 621.3,673.8 C621.77,673.8 622.23,649.49 622.7,635.3 C623.17,621.11 623.63,587.7 624.1,587.7 C625.07,587.7 626.03,588.4 627,588.4 C627.7,588.4 628.4,586.99 629.1,585.6 C629.83,584.15 630.57,579.3 631.3,577 C631.87,575.23 632.43,572.5 633,572.5 C633.6,572.5 634.2,572.62 634.8,572.8 C635.5,573.01 636.2,576.3 636.9,576.3 C637.87,576.3 638.83,575.9 639.8,575.9 C643.1,575.9 646.4,575.9 649.7,575.9 C650.1,575.9 650.5,572.8 650.9,572.8 C651.23,572.8 651.57,583.72 651.9,592.7 C652.47,607.96 653.03,671.6 653.6,671.6 C653.97,671.6 654.33,669.71 654.7,666.6 C655.03,663.77 655.37,625.45 655.7,614 C656.1,600.27 656.5,583.9 656.9,583.9 C657.37,583.9 657.83,585.03 658.3,585.6 C658.77,586.17 659.23,587.3 659.7,587.3 C660.4,587.3 661.1,583.67 661.8,581.3 C662.43,579.16 663.07,575.22 663.7,573.5 C664.17,572.24 664.63,570.6 665.1,570.6 C665.67,570.6 666.23,575.48 666.8,575.6 C667.77,575.81 668.73,575.9 669.7,575.9 C671.57,575.9 673.43,575.6 675.3,575.6 C678.13,575.6 680.97,575.8 683.8,575.9" fill="none" stroke="#8a2a30" stroke-width="1.15" stroke-linejoin="round"/>
<text x="558" y="543.1" font-size="10" font-weight="bold" text-anchor="middle" fill="#7a2030">cough</text>
<g stroke="#222" stroke-width="1.1" fill="none"><line x1="414.3" y1="703.5" x2="414.3" y2="697.7"/><line x1="443.6" y1="703.5" x2="443.6" y2="697.7"/><line x1="472.9" y1="703.5" x2="472.9" y2="697.7"/><line x1="502.2" y1="703.5" x2="502.2" y2="697.7"/><line x1="531.5" y1="703.5" x2="531.5" y2="697.7"/><line x1="560.8" y1="703.5" x2="560.8" y2="697.7"/><line x1="590.1" y1="703.5" x2="590.1" y2="697.7"/><line x1="619.4" y1="703.5" x2="619.4" y2="697.7"/><line x1="648.7" y1="703.5" x2="648.7" y2="697.7"/><line x1="678" y1="703.5" x2="678" y2="697.7"/><line x1="414.3" y1="690.2" x2="418.9" y2="690.2"/><line x1="414.3" y1="663.4" x2="418.9" y2="663.4"/><line x1="414.3" y1="636.6" x2="418.9" y2="636.6"/><line x1="414.3" y1="609.8" x2="418.9" y2="609.8"/><line x1="414.3" y1="583" x2="418.9" y2="583"/><line x1="414.3" y1="556.2" x2="418.9" y2="556.2"/><line x1="414.3" y1="529.4" x2="418.9" y2="529.4"/><line x1="414.3" y1="502.6" x2="418.9" y2="502.6"/></g>
<rect x="414.3" y="502.1" width="270" height="201.4" fill="none" stroke="#222" stroke-width="1.2"/>
<g font-size="13.5" fill="#111"><text x="414.3" y="717.8" text-anchor="middle">0</text><text x="443.6" y="717.8" text-anchor="middle">1</text><text x="472.9" y="717.8" text-anchor="middle">2</text><text x="502.2" y="717.8" text-anchor="middle">3</text><text x="531.5" y="717.8" text-anchor="middle">4</text><text x="560.8" y="717.8" text-anchor="middle">5</text><text x="590.1" y="717.8" text-anchor="middle">6</text><text x="619.4" y="717.8" text-anchor="middle">7</text><text x="648.7" y="717.8" text-anchor="middle">8</text><text x="678" y="717.8" text-anchor="middle">9</text><text x="412" y="695.06" text-anchor="end">0</text><text x="412" y="668.26" text-anchor="end">1</text><text x="412" y="641.46" text-anchor="end">2</text><text x="412" y="614.66" text-anchor="end">3</text><text x="412" y="587.86" text-anchor="end">4</text><text x="412" y="561.06" text-anchor="end">5</text><text x="412" y="534.26" text-anchor="end">6</text><text x="412" y="507.46" text-anchor="end">7</text></g>
<text x="551.3" y="732.7" text-anchor="middle" font-size="13.5" fill="#111">Time (s)</text>
<text transform="translate(397.8,602.1) rotate(-90)" text-anchor="middle" font-size="13.5" fill="#111">Voltage (V)</text>
<text x="379.6" y="509.5" font-size="16.5" font-weight="bold" fill="#111">(f)</text>
<polyline points="50.6,927.21 51.6,926.92 52.6,926.57 53.6,926.3 54.6,925.72 55.9,926.78 57.2,926.88 58.5,926.62 59.8,926.4 60.86,926.09 61.92,926.28 62.98,925.53 64.04,925.81 65.1,925.57 66.14,925.78 67.18,925.75 68.22,925.18 69.26,925.31 70.3,925.3 71.3,925.77 72.3,925.54 73.3,924.89 74.3,925.37 75.6,925.44 76.9,926.54 78.2,926.76 79.2,926.8 80.2,927.73 81.2,927.29 82.2,927.44 83.5,928.83 84.8,929.44 85.84,928.77 86.88,929.24 87.92,928.72 88.96,928.7 90,928.13 91.06,928.8 92.12,928.57 93.18,928.82 94.24,928.75 95.3,928.22 96.36,928.22 97.42,927.98 98.48,927.9 99.54,927.77 100.6,927.92 101.9,928.29 103.2,927.85 104.5,928.56 105.56,928.25 106.62,928.23 107.68,928.69 108.74,928.38 109.8,928.23 111.1,928.62 112.4,929.05 113.7,928.7 114.85,929.6 116,928.82 117.15,929.55 118.3,929.71 119.6,926.17 120.9,924.06 122,924.11 123.1,924.74 124.2,924.66 125.5,925.04 126.8,925.51 127.8,924.31 128.8,922 129.8,913.5 130.8,905 132.5,885 134,862 135.2,850 136.7,842.33 138.1,843.63 139.1,841.32 140.1,838.86 141.1,835.86 142.55,834.42 144,833.12 145.1,834.1 146.2,834.25 147.3,832.62 148.4,830.47 149.56,830.66 150.72,830.06 151.88,831.02 153.04,830.39 154.2,830.76 155.65,831 157.1,831.28 158.55,830.06 160,829.88 161.04,829.6 162.09,829.45 163.13,829.51 164.17,829.44 165.21,829.41 166.26,829.53 167.3,830.07 168.4,830.5 169.5,829.9 170.6,829.94 171.7,830.94 172.8,830.03 173.9,829.42 175.13,829.9 176.37,830.85 177.6,831.69 178.76,831.26 179.92,831.13 181.08,830.7 182.24,831.37 183.4,830.48 184.5,830.54 185.6,830.5 186.7,829.52 187.8,829.71 188.96,829.82 190.12,829.46 191.28,829.52 192.44,828.83 193.6,829.04 195.05,829.33 196.5,830.51 197.5,829.15 198.5,828.42 199.5,828.05 200.57,827.84 201.65,827.88 202.73,827.33 203.8,827.29 204.8,826.91 205.8,826.08 206.8,825.31 208.25,825.71 209.7,825.78 211.15,825.69 212.6,825.94 213.7,826.96 214.8,827.71 215.9,828.2 217,828.65 218.1,827.68 219.2,827.3 219.9,834.6 220.6,850 222.5,898.1 223.3,913.1 225.1,915.55 226.1,915.88 227.1,915.68 229,914.76 230,915.18 231,915.54 232,915.95 233,915.63 234,914.88 235,914.6 236,919.55 237,924.68 238,924.9 239,925.69 240,926.54 241,927.07 242,927.31 243.06,927.83 244.11,927.49 245.17,927.36 246.23,926.77 247.29,927.19 248.34,926.85 249.4,927.15 250.65,925.47 251.9,924.29 252.92,924.33 253.93,924.67 254.95,924.46 255.97,924.93 256.98,925.21 258,925.5 259.05,925.15 260.1,925.68 261.15,925.78 262.2,925.7 263.25,926.05 264.3,926.11 265.4,925.86 266.5,926.02 267.6,925.83 268.7,926.58 269.8,926.82 270.9,926.55 272,926.88 273.1,927.05 274.2,927.21 275.23,926.8 276.27,927.45 277.3,927.37 278.33,927.55 279.37,927.43 280.4,927.71 281.43,927.95 282.47,927.92 283.5,928.1 284.53,927.57 285.57,927.79 286.6,928.15 287.66,928.34 288.73,927.95 289.79,928.37 290.86,928.32 291.92,927.79 292.99,928.17 294.05,927.95 295.11,927.8 296.18,927.87 297.24,928.04 298.31,927.91 299.37,927.92 300.44,927.78 301.5,928.17 302.56,928.02 303.62,928.15 304.69,928.06 305.75,927.66 306.81,928.19 307.88,927.3 308.94,927.59 310,927.4 311.11,927.44 312.23,927.1 313.34,927.67 314.45,927.19 315.56,926.81 316.67,927.25 317.79,926.71 318.9,927.04 320,925.5" fill="none" stroke="#e8383a" stroke-width="1.3" stroke-linejoin="round"/>
<polyline points="50.6,928.28 51.66,928.3 52.72,928.79 53.78,928.52 54.84,928.99 55.9,929.01 57.03,928.73 58.16,928.99 59.29,928.6 60.41,928.82 61.54,928.51 62.67,928.47 63.8,928.65 64.85,928.9 65.9,928.38 66.95,928.42 68,928.67 69.05,928.86 70.1,928.57 71.15,928.42 72.2,928.79 73.25,928.11 74.3,928.65 75.34,928.11 76.38,927.87 77.42,927.71 78.46,927.71 79.5,927.92 80.63,927.53 81.76,927.87 82.89,927.97 84.01,927.84 85.14,928.02 86.27,927.74 87.4,927.79 88.42,927.89 89.43,928.23 90.45,928.05 91.46,927.97 92.48,928.16 93.49,928.07 94.51,927.96 95.52,928.31 96.54,928.24 97.55,927.92 98.57,928.15 99.58,928.12 100.6,928.36 101.68,928.13 102.77,927.68 103.85,928.04 104.93,927.3 106.02,927.38 107.1,927.48 108.16,926.88 109.22,926.93 110.28,926.44 111.34,926.7 112.4,926.59 113.7,926.58 115,926.93 116.3,926.67 117.36,927.12 118.42,927.23 119.48,927.4 120.54,927.49 121.6,927.94 122.64,927.89 123.68,927.44 124.72,927.45 125.76,926.91 126.8,927.24 128.15,925.2 129.5,923.1 130.5,918.05 131.5,913 133.1,901.95 134.45,898.33 135.8,894.45 136.4,893.02 137,892.72 137.6,892.97 138.4,896.37 139.7,898.32 141,900.43 142.17,900.59 143.33,901.29 144.5,901.04 145.55,901.01 146.6,901 147.65,901.23 148.7,900.57 149.75,900.71 150.8,900.67 151.85,900.8 152.9,900.64 153.95,900.56 155,900.04 156.1,900.1 157.2,900.03 158.3,900.36 159.4,900.37 160.5,899.77 161.6,899.75 162.7,899.75 163.8,899.71 164.9,900.09 166,900.36 167.1,900.33 168.2,900.35 169.37,901.54 170.53,902.41 171.7,903.45 172.8,903.04 173.9,902.18 175,901.39 176.1,900.78 177.1,900.79 178.1,900.32 179.1,900.87 180.1,900.75 181.1,900.78 182.1,900.69 183.1,900.37 184.1,900.34 185.1,900.1 186.1,900.44 187.1,900 188.1,899.97 189.1,900.03 190.1,899.96 191.13,900.12 192.16,899.95 193.19,899.94 194.22,900.07 195.25,900.07 196.28,900.28 197.31,900.07 198.34,900.7 199.36,900.54 200.39,900.25 201.42,900.35 202.45,900.45 203.48,900.49 204.51,900.35 205.54,900.89 206.57,901.02 207.6,900.68 208.66,900.67 209.73,900.37 210.79,900.36 211.86,900.5 212.92,900.43 213.99,900.8 215.05,900.31 216.11,900.19 217.18,900.82 218.24,900.51 219.31,900.22 220.37,900.47 221.44,900.09 222.5,900.42 224.2,905.1 226,920.9 227.7,929.63 228.8,929.43 229.9,929.19 231,928.76 232.1,928.71 233.3,927.92 234.5,927.69 235.53,927.54 236.57,927.74 237.6,927.44 238.63,927.39 239.67,927.82 240.7,927.96 241.73,927.89 242.77,927.87 243.8,927.9 244.83,927.87 245.87,927.53 246.9,927.75 247.93,927.66 248.97,927.45 250,927.47 251.02,927.64 252.03,927.62 253.05,927.92 254.06,928.1 255.08,927.74 256.09,928.07 257.11,928.1 258.13,928.08 259.14,927.66 260.16,927.55 261.17,927.55 262.19,927.52 263.21,927.52 264.22,927.81 265.24,928 266.25,927.95 267.27,927.7 268.28,927.81 269.3,927.91 270.32,927.49 271.34,927.97 272.35,928.22 273.37,928.2 274.39,928.26 275.41,928.14 276.42,928.01 277.44,928.51 278.46,928.27 279.48,928.68 280.49,928.87 281.51,928.54 282.53,928.63 283.55,929.08 284.56,929 285.58,928.69 286.6,928.74 287.63,928.74 288.66,929.25 289.69,929.17 290.72,928.69 291.75,929.15 292.78,929.24 293.82,929 294.85,928.77 295.88,928.9 296.91,928.59 297.94,928.49 298.97,929.15 300,928.9 301.05,928.81 302.1,929.09 303.15,928.74 304.2,929.04 305.25,929 306.3,928.56 307.35,928.59 308.4,928.61 309.45,928.57 310.5,928.8 311.55,928.57 312.6,928.68 313.65,928.47 314.7,929.01 315.75,928.61 316.8,928.68 317.85,928.76 318.9,928.98 320,928.5" fill="none" stroke="#3a64b8" stroke-width="1.3" stroke-linejoin="round"/>
<g font-size="10" font-weight="bold" fill="#111"><text x="173.6" y="822.7" text-anchor="middle">25 mg</text><text x="175.2" y="893.5" text-anchor="middle">5 mg</text><text x="119.9" y="874" text-anchor="middle">load</text><text x="223.8" y="870.3">unload</text></g>
<g stroke="#222" stroke-width="1.1" fill="none"><line x1="50.4" y1="948.7" x2="50.4" y2="942.9"/><line x1="103.1" y1="948.7" x2="103.1" y2="942.9"/><line x1="155.8" y1="948.7" x2="155.8" y2="942.9"/><line x1="208.5" y1="948.7" x2="208.5" y2="942.9"/><line x1="261.2" y1="948.7" x2="261.2" y2="942.9"/><line x1="313.9" y1="948.7" x2="313.9" y2="942.9"/><line x1="50.4" y1="929.4" x2="55" y2="929.4"/><line x1="50.4" y1="899.05" x2="55" y2="899.05"/><line x1="50.4" y1="868.7" x2="55" y2="868.7"/><line x1="50.4" y1="838.35" x2="55" y2="838.35"/><line x1="50.4" y1="808" x2="55" y2="808"/><line x1="50.4" y1="777.65" x2="55" y2="777.65"/><line x1="50.4" y1="747.3" x2="55" y2="747.3"/></g>
<rect x="50.4" y="747.4" width="270" height="201.3" fill="none" stroke="#222" stroke-width="1.2"/>
<g font-size="13.5" fill="#111"><text x="50.4" y="963" text-anchor="middle">0.0</text><text x="103.1" y="963" text-anchor="middle">0.4</text><text x="155.8" y="963" text-anchor="middle">0.8</text><text x="208.5" y="963" text-anchor="middle">1.2</text><text x="261.2" y="963" text-anchor="middle">1.6</text><text x="313.9" y="963" text-anchor="middle">2.0</text><text x="48.1" y="934.26" text-anchor="end">0</text><text x="48.1" y="903.91" text-anchor="end">5</text><text x="48.1" y="873.56" text-anchor="end">10</text><text x="48.1" y="843.21" text-anchor="end">15</text><text x="48.1" y="812.86" text-anchor="end">20</text><text x="48.1" y="782.51" text-anchor="end">25</text><text x="48.1" y="752.16" text-anchor="end">30</text></g>
<text x="185.4" y="979.1" text-anchor="middle" font-size="13.5" fill="#111">Time (s)</text>
<text transform="translate(27.8,849.05) rotate(-90)" text-anchor="middle" font-size="13.5" fill="#111">|ΔV| (mV)</text>
<text x="4.5" y="753.6" font-size="16.5" font-weight="bold" fill="#111">(g)</text>
<defs><clipPath id="cph"><rect x="508.2" y="754.1" width="86.6" height="86.5"/></clipPath><filter id="blh" x="-10%" y="-10%" width="120%" height="120%"><feGaussianBlur stdDeviation="1.0"/></filter><linearGradient id="gh" x1="0.2" y1="0" x2="0.1" y2="1"><stop offset="0" stop-color="#b6babe"/><stop offset="0.5" stop-color="#aeb3b7"/><stop offset="1" stop-color="#a9aeb2"/></linearGradient></defs>
<g clip-path="url(#cph)"><rect x="508.2" y="754.1" width="86.6" height="86.5" fill="url(#gh)"/>
<g filter="url(#blh)">
<path d="M505,750 L548.5,750 L547,766 L543.8,777.1 L561.2,801.9 L544,788 L536,786.5 L537.5,793 L536.5,799 L534.9,803 L534.9,811.9 L533,815 L533,821 L530,826 L524,830 L519,836 L517,841 L505,845Z" fill="#3350b4"/>
<path d="M508,754 L540,754 C532,760 522,768 514,776 L508,780Z" fill="#2d45a6"/>
<path d="M513,782 C521,773 530,764 540,755 L546,756 C538,765 528,775 519,785Z" fill="#5877d6" opacity="0.85"/>
<path d="M535,786 C538,782 541,779 543.8,777 L547,771 L561.2,801.9 L553,795 L544,788.5Z" fill="#2b3d96"/>
<path d="M505,774 C509,775 513,777 515,781 C515,795 514,815 513,832 L505,836Z" fill="#151a44"/>
<ellipse cx="530" cy="794.5" rx="7.5" ry="8" fill="#3d5ecb"/>
<ellipse cx="523" cy="808" rx="11" ry="7" fill="#3a5ac6"/>
<ellipse cx="522" cy="820.5" rx="10" ry="6.5" fill="#3452bb"/>
<path d="M508,826 C514,828 518,832 518,840 L508,842Z" fill="#2a3f9e"/>
<rect x="534.9" y="803.1" width="62" height="8.8" fill="#d4a836"/>
<rect x="548" y="804" width="11.4" height="7" fill="#e4ac3a"/>
<rect x="560.4" y="803.6" width="18.4" height="7.8" fill="#a68c48"/>
</g></g>
<polyline points="415,934.6 420,934.4 430.5,934.3 431.5,933.3 433.4,846.1 433.9,843.9 434.4,846.1 436.2,933.3 437.2,934.7 460.1,934.3 461.1,933.3 464.1,833.8 464.6,831.6 465.1,833.8 468.2,933.3 469.2,934.7 490.7,934.3 491.7,933.3 494.9,850 495.4,847.8 495.9,850 498.3,933.3 499.3,934.7 520.4,934.3 521.4,933.3 524.6,854.3 525.1,852.1 525.6,854.3 527.5,933.3 528.5,934.7 549.7,934.3 550.7,933.3 553.7,850 554.2,847.8 554.7,850 556.9,933.3 557.9,934.7 578.3,934.3 579.3,933.3 582.1,859.4 582.6,857.2 583.1,859.4 584.9,933.3 585.9,934.7 607.8,934.3 608.8,933.3 611.9,856.7 612.4,854.5 612.9,856.7 615.5,933.3 616.5,934.7 638.4,934.3 639.4,933.3 642,846.5 642.5,844.3 643,846.5 645.1,933.3 646.1,934.7 669.1,934.3 670.1,933.3 672.8,837.9 673.3,835.7 673.8,837.9 676.8,933.3 677.8,934.7 681,934.3" fill="none" stroke="#111" stroke-width="1.1" stroke-linejoin="round"/>
<g stroke="#222" stroke-width="1.1" fill="none"><line x1="417.8" y1="948.8" x2="417.8" y2="943"/><line x1="453.35" y1="948.8" x2="453.35" y2="943"/><line x1="488.9" y1="948.8" x2="488.9" y2="943"/><line x1="524.45" y1="948.8" x2="524.45" y2="943"/><line x1="560" y1="948.8" x2="560" y2="943"/><line x1="595.55" y1="948.8" x2="595.55" y2="943"/><line x1="631.1" y1="948.8" x2="631.1" y2="943"/><line x1="666.65" y1="948.8" x2="666.65" y2="943"/><line x1="414.5" y1="935.3" x2="419.1" y2="935.3"/><line x1="414.5" y1="905.3" x2="419.1" y2="905.3"/><line x1="414.5" y1="875.3" x2="419.1" y2="875.3"/><line x1="414.5" y1="845.3" x2="419.1" y2="845.3"/><line x1="414.5" y1="815.3" x2="419.1" y2="815.3"/><line x1="414.5" y1="785.3" x2="419.1" y2="785.3"/><line x1="414.5" y1="755.3" x2="419.1" y2="755.3"/></g>
<rect x="414.5" y="747.5" width="269.7" height="201.3" fill="none" stroke="#222" stroke-width="1.2"/>
<g font-size="13.5" fill="#111"><text x="417.8" y="963.1" text-anchor="middle">0.0</text><text x="453.35" y="963.1" text-anchor="middle">0.5</text><text x="488.9" y="963.1" text-anchor="middle">1.0</text><text x="524.45" y="963.1" text-anchor="middle">1.5</text><text x="560" y="963.1" text-anchor="middle">2.0</text><text x="595.55" y="963.1" text-anchor="middle">2.5</text><text x="631.1" y="963.1" text-anchor="middle">3.0</text><text x="666.65" y="963.1" text-anchor="middle">3.5</text><text x="412.2" y="940.16" text-anchor="end">0</text><text x="412.2" y="910.16" text-anchor="end">20</text><text x="412.2" y="880.16" text-anchor="end">40</text><text x="412.2" y="850.16" text-anchor="end">60</text><text x="412.2" y="820.16" text-anchor="end">80</text><text x="412.2" y="790.16" text-anchor="end">100</text><text x="412.2" y="760.16" text-anchor="end">120</text></g>
<text x="548.65" y="978" text-anchor="middle" font-size="13.5" fill="#111">Time (s)</text>
<text transform="translate(388.8,848.5) rotate(-90)" text-anchor="middle" font-size="13.5" fill="#111">|ΔV| (mV)</text>
<text x="365.5" y="756.6" font-size="16.5" font-weight="bold" fill="#111">(h)</text>
</svg>
</body></html>
